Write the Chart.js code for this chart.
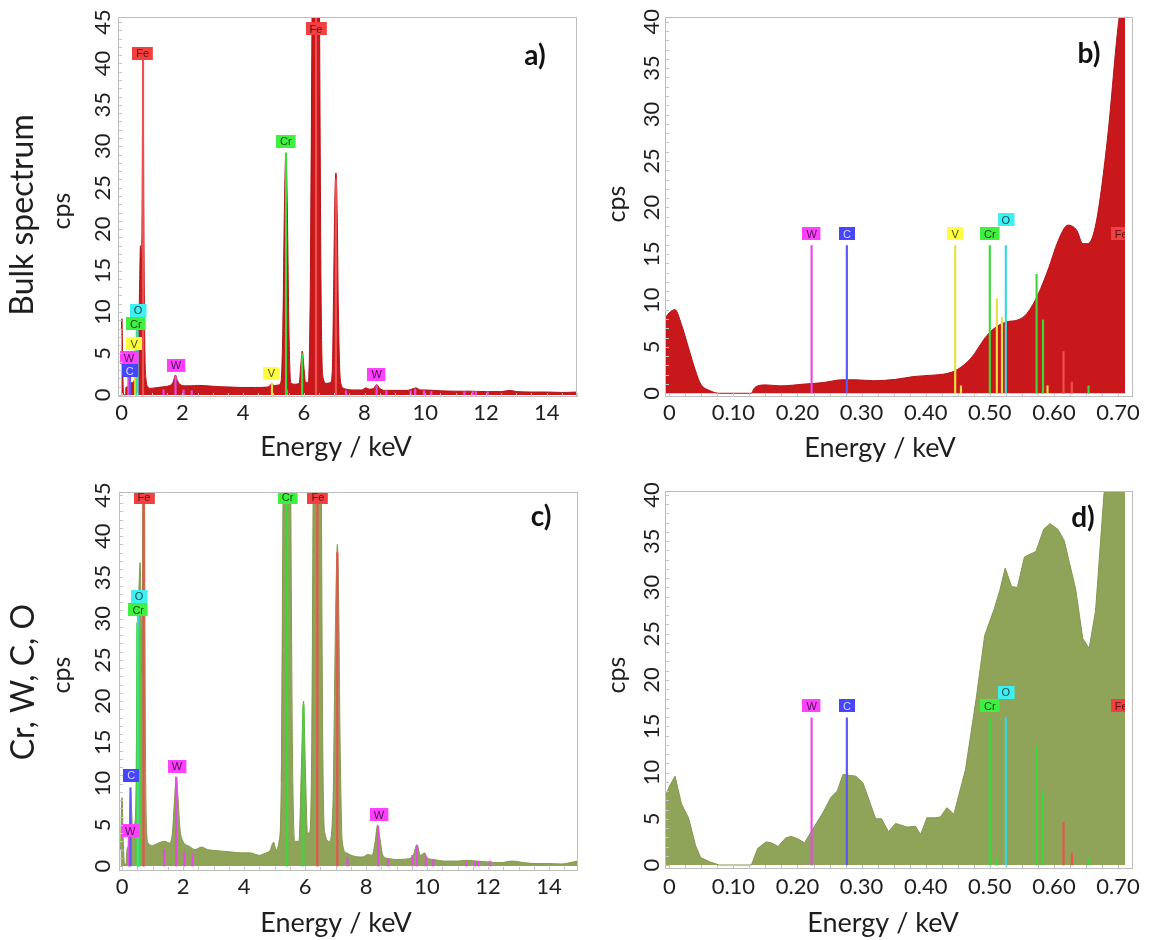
<!DOCTYPE html>
<html>
<head>
<meta charset="utf-8">
<script src="https://cdn.jsdelivr.net/npm/chart.js@4.4.1/dist/chart.umd.min.js"></script>
<style>
  body { margin: 0; background: #fff; width: 1151px; height: 940px; position: relative; overflow: hidden; }
  canvas { position: absolute; }
</style>
</head>
<body>
<canvas id="chartA" width="590" height="470" style="left:0;top:0"></canvas>
<canvas id="chartB" width="561" height="470" style="left:590px;top:0"></canvas>
<canvas id="chartC" width="590" height="470" style="left:0;top:470px"></canvas>
<canvas id="chartD" width="561" height="470" style="left:590px;top:470px"></canvas>
<script>
// tick labels
const wideTicks = [0, 2, 4, 6, 8, 10, 12, 14];
const narrowTicks = [0, 0.1, 0.2, 0.3, 0.4, 0.5, 0.6, 0.7];
const narrowTickLabels = ['0', '0.10', '0.20', '0.30', '0.40', '0.50', '0.60', '0.70'];
const cpsTicks45 = [0, 5, 10, 15, 20, 25, 30, 35, 40, 45];
const cpsTicks40 = [0, 5, 10, 15, 20, 25, 30, 35, 40];

// a) bulk spectrum, 0-15 keV
const bulkEnergy = [
  -0.01, 0.01, 0.03, 0.05, 0.08, 0.13, 0.14, 0.20, 0.28, 0.36,
  0.43, 0.47, 0.50, 0.54, 0.58, 0.62, 0.645, 0.67, 0.69, 0.70,
  0.71, 0.73, 0.76, 0.80, 0.86, 0.95, 1.10, 1.30, 1.50, 1.62,
  1.70, 1.77, 1.84, 1.95, 2.10, 2.30, 2.50, 2.80, 3.20, 3.60,
  4.00, 4.40, 4.80, 4.90, 4.95, 5.02, 5.15, 5.25, 5.31, 5.36,
  5.41, 5.46, 5.51, 5.57, 5.70, 5.85, 5.90, 5.95, 6.00, 6.06,
  6.15, 6.22, 6.27, 6.33, 6.40, 6.47, 6.52, 6.57, 6.64, 6.75,
  6.88, 6.94, 6.98, 7.02, 7.06, 7.10, 7.14, 7.20, 7.28, 7.40,
  7.60, 7.90, 8.05, 8.15, 8.30, 8.40, 8.50, 8.65, 9.00, 9.40,
  9.60, 9.70, 9.85, 10.0, 10.5, 11.0, 11.5, 12.0, 12.5, 12.8,
  13.0, 13.5, 14.0, 14.5, 15.0
];
const bulkCps = [
  8.0, 9.2, 4.9, 1.0, 0.0, 0.0, 0.9, 1.0, 1.45, 1.5,
  2.1, 3.8, 6.5, 7.9, 11.0, 18.0, 16.2, 20.0, 35.0, 40.0,
  39.0, 22.0, 7.0, 2.0, 1.0, 0.8, 0.85, 0.95, 1.05, 1.2,
  1.6, 2.4, 1.7, 1.2, 1.1, 1.1, 1.15, 1.1, 1.0, 0.95,
  0.9, 0.9, 0.95, 1.2, 1.45, 1.1, 1.2, 1.6, 8.0, 22.0,
  29.2, 22.0, 8.0, 1.5, 1.3, 1.4, 3.5, 5.3, 3.5, 1.5,
  1.6, 15.0, 45.0, 80.0, 95.0, 80.0, 45.0, 12.0, 2.0, 1.4,
  1.5, 3.0, 12.0, 23.0, 26.8, 22.0, 10.0, 2.0, 0.9, 0.7,
  0.6, 0.6, 0.85, 0.7, 0.8, 1.25, 0.8, 0.55, 0.55, 0.55,
  0.75, 0.85, 0.6, 0.6, 0.5, 0.45, 0.45, 0.4, 0.4, 0.55,
  0.4, 0.35, 0.35, 0.3, 0.35
];
// [energy, height, element]
const bulkLines = [
  [0.222, 3.8, 'W'], [0.277, 2.2, 'C'], [0.446, 5.5, 'V'], [0.500, 8.0, 'Cr'], [0.525, 9.5, 'O'], [0.705, 40.5, 'Fe'],
  [1.38, 0.6, 'W'], [1.775, 2.3, 'W'], [2.04, 0.6, 'W'], [2.31, 0.5, 'W'],
  [4.952, 1.4, 'V'], [5.427, 0.6, 'V'], [5.415, 29.2, 'Cr'], [5.947, 5.0, 'Cr'], [6.404, 45.5, 'Fe'], [7.058, 26.0, 'Fe'],
  [7.39, 0.5, 'W'], [8.398, 1.2, 'W'], [8.72, 0.5, 'W'], [9.52, 0.5, 'W'], [9.67, 0.7, 'W'], [9.96, 0.5, 'W'],
  [10.2, 0.4, 'W'], [11.29, 0.4, 'W'], [11.57, 0.4, 'W'], [11.67, 0.4, 'W'], [12.06, 0.4, 'W']
];
// [element, energy, cps]
const bulkTags = [
  ['Fe', 0.69, 41.2], ['Fe', 6.40, 44.2], ['Cr', 5.41, 30.6], ['O', 0.54, 10.2], ['Cr', 0.47, 8.6],
  ['V', 0.41, 6.2], ['W', 0.24, 4.5], ['C', 0.27, 2.9], ['W', 1.79, 3.6], ['V', 4.93, 2.6], ['W', 8.40, 2.5]
];

// b) bulk spectrum, 0-0.7 keV
const bulkLowEnergy = [
  -0.0067, 0.002, 0.009, 0.019, 0.030, 0.041, 0.049, 0.063, 0.078, 0.128,
  0.132, 0.138, 0.151, 0.173, 0.212, 0.240, 0.269, 0.291, 0.319, 0.353,
  0.381, 0.410, 0.431, 0.448, 0.471, 0.493, 0.507, 0.527, 0.544, 0.558,
  0.575, 0.592, 0.606, 0.622, 0.636, 0.645, 0.653, 0.666, 0.684, 0.701,
  0.711
];
const bulkLowCps = [
  8.1, 8.8, 9.0, 7.4, 4.9, 2.4, 1.0, 0.3, 0.0, 0.0,
  0.5, 0.8, 0.9, 0.8, 1.0, 1.15, 1.45, 1.45, 1.35, 1.5,
  1.8, 1.95, 2.1, 2.5, 3.8, 6.0, 7.0, 7.7, 7.9, 8.6,
  10.6, 13.5, 16.3, 18.1, 17.5, 16.1, 16.1, 18.4, 27.7, 40.0,
  44.0
];
const bulkLowLines = [
  [0.222, 15.9, 'W'], [0.277, 15.9, 'C'], [0.446, 15.9, 'V'], [0.455, 0.8, 'V'], [0.500, 15.9, 'Cr'],
  [0.511, 10.2, 'V'], [0.519, 8.2, 'V'], [0.525, 15.9, 'O'], [0.573, 12.8, 'Cr'], [0.583, 7.9, 'Cr'],
  [0.590, 0.8, 'V'], [0.615, 4.5, 'Fe'], [0.628, 1.2, 'Fe'], [0.654, 0.8, 'Cr']
];
const bulkLowTags = [
  ['W', 0.222, 17.2], ['C', 0.277, 17.2], ['V', 0.446, 17.2], ['Cr', 0.500, 17.2], ['O', 0.525, 18.7], ['Fe', 0.705, 17.2]
];

// c) Cr, W, C, O map spectrum, 0-15 keV
const mapEnergy = [
  -0.05, 0.00, 0.04, 0.08, 0.13, 0.16, 0.22, 0.28, 0.35, 0.42,
  0.46, 0.49, 0.52, 0.55, 0.59, 0.63, 0.655, 0.675, 0.70, 0.73,
  0.76, 0.80, 0.85, 1.00, 1.20, 1.40, 1.55, 1.65, 1.72, 1.78,
  1.84, 1.90, 2.00, 2.20, 2.40, 2.60, 2.80, 3.00, 3.30, 3.60,
  3.90, 4.20, 4.50, 4.65, 4.85, 4.97, 5.05, 5.15, 5.22, 5.27,
  5.33, 5.41, 5.49, 5.54, 5.60, 5.68, 5.80, 5.88, 5.95, 6.01,
  6.08, 6.15, 6.22, 6.27, 6.33, 6.40, 6.47, 6.53, 6.58, 6.65,
  6.80, 6.92, 6.98, 7.03, 7.06, 7.10, 7.15, 7.22, 7.35, 7.60,
  7.90, 8.05, 8.20, 8.30, 8.38, 8.45, 8.55, 8.75, 9.00, 9.40,
  9.55, 9.67, 9.78, 9.92, 10.0, 10.2, 10.6, 11.0, 11.3, 11.6,
  12.0, 12.4, 12.8, 13.2, 13.6, 14.0, 14.4, 14.8, 14.95
];
const mapCps = [
  2.0, 8.3, 3.0, 0.3, 0.2, 2.0, 2.8, 9.0, 4.5, 5.2,
  10.0, 25.0, 32.0, 33.5, 36.8, 30.0, 23.4, 38.0, 80.0, 60.0,
  20.0, 5.0, 2.8, 2.5, 2.8, 3.0, 2.8, 4.0, 8.0, 10.8,
  8.0, 4.5, 3.0, 2.4, 2.0, 2.3, 2.0, 1.9, 1.8, 1.7,
  1.6, 1.6, 1.3, 1.5, 1.9, 2.9, 2.0, 3.0, 10.0, 40.0,
  80.0, 95.0, 80.0, 40.0, 10.0, 3.0, 3.0, 12.0, 20.0, 12.0,
  4.0, 4.0, 15.0, 50.0, 100.0, 120.0, 100.0, 50.0, 15.0, 4.0,
  3.0, 8.0, 25.0, 36.0, 39.0, 33.0, 15.0, 3.0, 1.6, 1.2,
  1.1, 1.4, 1.3, 3.0, 5.0, 3.5, 1.3, 0.9, 0.8, 0.9,
  1.3, 2.6, 1.3, 1.6, 1.0, 0.8, 0.6, 0.6, 0.7, 0.6,
  0.5, 0.4, 0.6, 0.4, 0.3, 0.3, 0.25, 0.5, 0.6
];
const mapLines = [
  [0.222, 3.5, 'W'], [0.277, 9.5, 'C'], [0.500, 29.5, 'Cr'], [0.525, 31.5, 'O'], [0.573, 29.0, 'Cr'], [0.705, 44.5, 'Fe'],
  [1.38, 2.0, 'W'], [1.775, 10.8, 'W'], [2.04, 1.8, 'W'], [2.31, 1.5, 'W'],
  [5.415, 45.5, 'Cr'], [5.947, 19.5, 'Cr'], [6.404, 45.5, 'Fe'], [7.058, 38.0, 'Fe'],
  [7.39, 1.0, 'W'], [8.398, 4.8, 'W'], [8.72, 0.8, 'W'], [9.52, 1.3, 'W'], [9.67, 2.5, 'W'], [9.96, 1.2, 'W'],
  [10.2, 0.8, 'W'], [11.29, 0.6, 'W'], [11.57, 0.6, 'W'], [11.67, 0.6, 'W'], [12.06, 0.6, 'W']
];
const mapTags = [
  ['Fe', 0.72, 44.7], ['Cr', 5.43, 44.7], ['Fe', 6.42, 44.7], ['O', 0.56, 32.7], ['Cr', 0.53, 31.1],
  ['C', 0.30, 11.0], ['W', 0.27, 4.3], ['W', 1.80, 12.1], ['W', 8.42, 6.2]
];

// d) Cr, W, C, O map spectrum, 0-0.7 keV
const mapLowEnergy = [
  -0.0067, 0.000, 0.009, 0.019, 0.030, 0.041, 0.049, 0.063, 0.078, 0.128,
  0.138, 0.151, 0.159, 0.170, 0.181, 0.190, 0.201, 0.211, 0.224, 0.240,
  0.252, 0.262, 0.271, 0.291, 0.302, 0.322, 0.331, 0.342, 0.353, 0.371,
  0.384, 0.392, 0.402, 0.415, 0.423, 0.433, 0.444, 0.462, 0.479, 0.492,
  0.507, 0.516, 0.524, 0.534, 0.543, 0.554, 0.572, 0.584, 0.594, 0.606,
  0.616, 0.634, 0.645, 0.655, 0.665, 0.678, 0.711
];
const mapLowCps = [
  7.3, 8.5, 9.6, 6.6, 5.1, 2.1, 0.8, 0.35, 0.0, 0.0,
  1.8, 2.5, 2.4, 2.0, 2.9, 3.1, 2.8, 2.4, 3.9, 5.7,
  7.3, 8.0, 9.8, 9.6, 8.9, 5.0, 5.0, 3.6, 4.5, 4.1,
  4.2, 3.3, 5.1, 5.1, 5.2, 6.2, 5.5, 10.3, 18.1, 24.8,
  27.7, 29.8, 32.1, 30.1, 30.0, 33.3, 33.9, 36.3, 36.9, 36.3,
  35.1, 29.8, 24.5, 23.4, 27.5, 40.0, 60.0
];
const mapLowLines = [
  [0.222, 15.9, 'W'], [0.277, 15.9, 'C'], [0.500, 15.9, 'Cr'], [0.511, 0.7, 'Cr'], [0.525, 15.9, 'O'],
  [0.573, 12.8, 'Cr'], [0.583, 7.9, 'Cr'], [0.615, 4.6, 'Fe'], [0.628, 1.3, 'Fe'], [0.654, 0.8, 'Cr']
];
const mapLowTags = [
  ['W', 0.222, 17.2], ['C', 0.277, 17.2], ['Cr', 0.500, 17.2], ['O', 0.525, 18.7], ['Fe', 0.705, 17.2]
];

// colours
const lineColor = { W: '#e24ee2', C: '#5a5af0', V: '#e8e040', Cr: '#3cd83c', O: '#3cd8e0', Fe: '#ee5050' };
const tagColor = { W: '#ff40ff', C: '#4646ff', V: '#ffff40', Cr: '#40f040', O: '#40f0f0', Fe: '#f24040' };
const tagInk = { W: '#4a104a', C: '#d8d8ff', V: '#4a4a10', Cr: '#104a10', O: '#104a4a', Fe: '#5a1010' };
const RED = '#c8181c', RED_EDGE = '#b41216';
const OLIVE = '#8fa458', OLIVE_EDGE = '#82974c';
const FONT = 'Lato, "DejaVu Sans", sans-serif';
const INK = '#1e1e1e';

const panels = {
  chartA: { energy: bulkEnergy, cps: bulkCps, lines: bulkLines, tags: bulkTags, fill: RED, edge: RED_EDGE, smooth: true,
    xMin: -0.12, xMax: 15, yMin: -0.25, yMax: 45.6, top: 17, right: 13, yWidth: 118, xHeight: 73,
    xTicks: wideTicks, xLabels: null, yTicks: cpsTicks45, minorX: 0.5,
    yTickX: 103, xTickY: 413, titleX: 336, titleY: 447, cpsX: 62, cpsY: 211,
    row: 'Bulk spectrum', rowX: 23, rowY: 215, letter: 'a)', letterX: 535, letterY: 56 },
  chartB: { energy: bulkLowEnergy, cps: bulkLowCps, lines: bulkLowLines, tags: bulkLowTags, fill: RED, edge: RED_EDGE, smooth: true,
    xMin: -0.0067, xMax: 0.7234, yMin: -0.4, yMax: 40.5, top: 17, right: 18, yWidth: 75, xHeight: 73,
    xTicks: narrowTicks, xLabels: narrowTickLabels, yTicks: cpsTicks40, minorX: 0.025,
    yTickX: 62, xTickY: 413, titleX: 290, titleY: 448, cpsX: 27, cpsY: 204,
    letter: 'b)', letterX: 499, letterY: 54, clipEnd: true },
  chartC: { energy: mapEnergy, cps: mapCps, lines: mapLines, tags: mapTags, fill: OLIVE, edge: OLIVE_EDGE, smooth: true,
    xMin: -0.1, xMax: 14.95, yMin: -0.6, yMax: 45.36, top: 22, right: 12, yWidth: 119, xHeight: 69,
    xTicks: wideTicks, xLabels: null, yTicks: cpsTicks45, minorX: 0.5,
    yTickX: 103, xTickY: 417, titleX: 336, titleY: 453, cpsX: 62, cpsY: 205,
    row: 'Cr, W, C, O', rowX: 24, rowY: 212, letter: 'c)', letterX: 541, letterY: 47 },
  chartD: { energy: mapLowEnergy, cps: mapLowCps, lines: mapLowLines, tags: mapLowTags, fill: OLIVE, edge: OLIVE_EDGE, smooth: false,
    xMin: -0.0067, xMax: 0.7234, yMin: -0.43, yMax: 40.43, top: 21, right: 18, yWidth: 75, xHeight: 71,
    xTicks: narrowTicks, xLabels: narrowTickLabels, yTicks: cpsTicks40, minorX: 0.025,
    yTickX: 62, xTickY: 417, titleX: 293, titleY: 453, cpsX: 27, cpsY: 205,
    letter: 'd)', letterX: 493, letterY: 48, clipEnd: true }
};

function rotatedText(ctx, text, x, y) {
  ctx.save();
  ctx.translate(x, y);
  ctx.rotate(-Math.PI / 2);
  ctx.fillText(text, 0, 0);
  ctx.restore();
}

const decor = {
  id: 'decor',
  afterDatasetsDraw(chart) {
    const p = panels[chart.canvas.id];
    const { ctx, chartArea: a, scales: { x, y } } = chart;
    const last = p.energy[p.energy.length - 1];
    const right = p.clipEnd ? Math.min(a.right, x.getPixelForValue(last)) : a.right;
    ctx.save();
    ctx.beginPath();
    ctx.rect(a.left, a.top, right - a.left, a.bottom - a.top);
    ctx.clip();
    ctx.font = '11px "Liberation Sans", sans-serif';
    ctx.textAlign = 'center';
    ctx.textBaseline = 'middle';
    p.tags.forEach(([el, e, v]) => {
      const px = x.getPixelForValue(e), py = y.getPixelForValue(v);
      const w = Math.max(16, ctx.measureText(el).width + 8), h = 13;
      ctx.fillStyle = tagColor[el];
      ctx.fillRect(Math.round(px - w / 2), Math.round(py - h / 2), w, h);
      ctx.fillStyle = tagInk[el];
      ctx.fillText(el, px, py + 1);
    });
    ctx.restore();
  },
  afterDraw(chart) {
    const p = panels[chart.canvas.id];
    const { ctx, chartArea: a, scales: { x, y } } = chart;
    ctx.save();
    // frame and inner minor ticks
    ctx.strokeStyle = '#bdbdbd';
    ctx.lineWidth = 1;
    ctx.strokeRect(a.left + 0.5, a.top + 0.5, a.right - a.left - 1, a.bottom - a.top - 1);
    ctx.strokeStyle = '#c4c4c4';
    ctx.beginPath();
    for (let v = 0; v <= p.yMax; v += 1) {
      const py = Math.round(y.getPixelForValue(v)) + 0.5;
      ctx.moveTo(a.left, py); ctx.lineTo(a.left + 4, py);
    }
    const n = Math.floor(p.xMax / p.minorX + 1e-6);
    for (let i = 0; i <= n; i++) {
      const px = Math.round(x.getPixelForValue(i * p.minorX)) + 0.5;
      ctx.moveTo(px, a.bottom); ctx.lineTo(px, a.bottom - 4);
    }
    ctx.stroke();

    ctx.fillStyle = INK;
    ctx.textAlign = 'center';
    ctx.textBaseline = 'middle';
    // tick labels
    ctx.font = '22px ' + FONT;
    p.yTicks.forEach(v => rotatedText(ctx, String(v), p.yTickX, y.getPixelForValue(v)));
    p.xTicks.forEach((v, i) => {
      ctx.fillText(p.xLabels ? p.xLabels[i] : String(v), x.getPixelForValue(v), p.xTickY);
    });
    // axis titles
    ctx.font = '27px ' + FONT;
    ctx.fillText('Energy / keV', p.titleX, p.titleY);
    ctx.font = '25px ' + FONT;
    rotatedText(ctx, 'cps', p.cpsX, p.cpsY);
    if (p.row) {
      ctx.font = '32px ' + FONT;
      rotatedText(ctx, p.row, p.rowX, p.rowY);
    }
    ctx.font = 'bold 28px ' + FONT;
    ctx.fillStyle = '#111';
    ctx.fillText(p.letter, p.letterX, p.letterY);
    ctx.restore();
  }
};

function makeChart(id) {
  const p = panels[id];
  return new Chart(document.getElementById(id), {
    type: 'line',
    data: {
      datasets: [
        {
          type: 'bar',
          data: p.lines.map(l => ({ x: l[0], y: l[1] })),
          backgroundColor: p.lines.map(l => lineColor[l[2]]),
          barThickness: 1.5,
          borderWidth: 0,
          order: 1
        },
        {
          data: p.energy.map((e, i) => ({ x: e, y: p.cps[i] })),
          fill: 'origin',
          backgroundColor: p.fill,
          borderColor: p.edge,
          borderWidth: 1,
          pointRadius: 0,
          tension: p.smooth ? 0.4 : 0,
          cubicInterpolationMode: p.smooth ? 'monotone' : 'default',
          order: 2
        }
      ]
    },
    options: {
      responsive: false,
      animation: false,
      devicePixelRatio: 1,
      events: [],
      layout: { padding: { top: p.top, right: p.right, left: 0, bottom: 0 } },
      plugins: { legend: { display: false }, tooltip: { enabled: false } },
      scales: {
        x: {
          type: 'linear', min: p.xMin, max: p.xMax, offset: false,
          grid: { display: false, offset: false }, border: { display: false }, ticks: { display: false },
          afterFit: s => { s.height = p.xHeight; }
        },
        y: {
          type: 'linear', min: p.yMin, max: p.yMax,
          grid: { display: false }, border: { display: false }, ticks: { display: false },
          afterFit: s => { s.width = p.yWidth; }
        }
      }
    },
    plugins: [decor]
  });
}

const chartA = makeChart('chartA');
const chartB = makeChart('chartB');
const chartC = makeChart('chartC');
const chartD = makeChart('chartD');
</script>
</body>
</html>
